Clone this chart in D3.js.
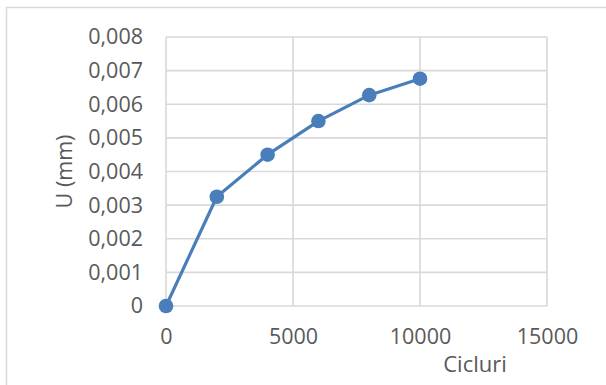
<!DOCTYPE html>
<html>
<head>
<meta charset="utf-8">
<script src="https://cdn.jsdelivr.net/npm/d3@7"></script>
<style>
  html, body { margin: 0; padding: 0; background: #fff; }
  svg { display: block; }
  text { font-family: "Open Sans", "Liberation Sans", sans-serif; fill: #595959; }
</style>
</head>
<body>
<svg id="chart" width="606" height="385"></svg>
<script>
// Displacement vs. number of cycles
const cycles = [0, 2000, 4000, 6000, 8000, 10000];
const displacement = [0, 0.00325, 0.0045, 0.0055, 0.00627, 0.00676];
const xTicks = [0, 5000, 10000, 15000];
const yTicks = [0, 0.001, 0.002, 0.003, 0.004, 0.005, 0.006, 0.007, 0.008];
const xTitle = "Cicluri";
const yTitle = "U (mm)";

const svg = d3.select("#chart");
const plot = { left: 166, top: 37, right: 547, bottom: 306 };

const x = d3.scaleLinear().domain([0, 15000]).range([plot.left, plot.right]);
const y = d3.scaleLinear().domain([0, 0.008]).range([plot.bottom, plot.top]);

// chart frame
svg.append("rect")
  .attr("x", 6.5).attr("y", 7.5).attr("width", 640).attr("height", 420)
  .attr("fill", "#fff").attr("stroke", "#d9d9d9").attr("stroke-width", 1.5);

// gridlines
const grid = svg.append("g").attr("stroke", "#d9d9d9").attr("stroke-width", 1.6);
grid.selectAll("line.h").data(yTicks).join("line")
  .attr("x1", plot.left).attr("x2", plot.right)
  .attr("y1", d => y(d)).attr("y2", d => y(d));
grid.selectAll("line.v").data(xTicks).join("line")
  .attr("y1", plot.top).attr("y2", plot.bottom)
  .attr("x1", d => x(d)).attr("x2", d => x(d));

// axes (labels only)
const fmt = d => d === 0 ? "0" : d3.format(".3f")(d).replace(".", ",");
const yAxis = svg.append("g")
  .attr("transform", `translate(${plot.left},0)`)
  .call(d3.axisLeft(y).tickValues(yTicks).tickFormat(fmt).tickSize(0).tickPadding(23));
yAxis.select(".domain").remove();
yAxis.selectAll("text").style("font-size", "21.5px").attr("fill", "#595959")
  .style("font-family", "'Open Sans', sans-serif");

const xAxis = svg.append("g")
  .attr("transform", `translate(0,${plot.bottom})`)
  .call(d3.axisBottom(x).tickValues(xTicks).tickFormat(d3.format("d")).tickSize(0).tickPadding(23));
xAxis.select(".domain").remove();
xAxis.selectAll("text").style("font-size", "21.5px").attr("fill", "#595959")
  .style("font-family", "'Open Sans', sans-serif");

// axis titles
svg.append("text")
  .attr("transform", `translate(72,${(plot.top + plot.bottom) / 2}) rotate(-90)`)
  .attr("text-anchor", "middle")
  .style("font-size", "21.5px")
  .text(yTitle);

svg.append("text")
  .attr("x", 475).attr("y", 372)
  .attr("text-anchor", "middle")
  .style("font-size", "22px")
  .text(xTitle);

// series
const pts = cycles.map((c, i) => [c, displacement[i]]);
svg.append("path")
  .datum(pts)
  .attr("fill", "none")
  .attr("stroke", "#4a7ebb")
  .attr("stroke-width", 3.2)
  .attr("stroke-linejoin", "round")
  .attr("d", d3.line().x(d => x(d[0])).y(d => y(d[1])));

svg.append("g").selectAll("circle").data(pts).join("circle")
  .attr("cx", d => x(d[0])).attr("cy", d => y(d[1]))
  .attr("r", 7.3)
  .attr("fill", "#4a7ebb");
</script>
</body>
</html>
